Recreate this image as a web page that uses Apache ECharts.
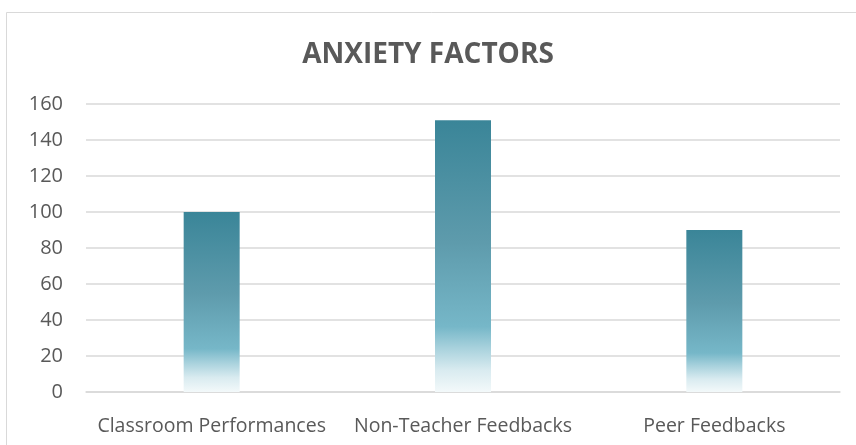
<!DOCTYPE html>
<html>
<head>
<meta charset="utf-8">
<script src="https://cdn.jsdelivr.net/npm/echarts@6/dist/echarts.min.js"></script>
<style>
  html, body { margin: 0; padding: 0; background: #fff; }
  #chart { width: 856px; height: 445px; }
</style>
</head>
<body>
<div id="chart"></div>
<script>
const categories = ['Classroom Performances', 'Non-Teacher Feedbacks', 'Peer Feedbacks'];
const counts = [100, 151, 90];
const yTicks = [0, 20, 40, 60, 80, 100, 120, 140, 160];

const chart = echarts.init(document.getElementById('chart'), null, { renderer: 'canvas' });

// teal at the top, fading out to near white at the base
const barGradient = new echarts.graphic.LinearGradient(0, 0, 0, 1, [
  { offset: 0, color: '#3a8598' },
  { offset: 0.45, color: '#5e9bac' },
  { offset: 0.76, color: '#76b7c8' },
  { offset: 0.84, color: '#a9d2dd' },
  { offset: 0.92, color: '#d9ebf0' },
  { offset: 1, color: '#f3f9fa' }
]);

const option = {
  backgroundColor: '#fff',
  animation: false,
  title: {
    text: 'ANXIETY FACTORS',
    left: 'center',
    top: 36,
    textStyle: {
      fontFamily: 'Open Sans',
      fontSize: 28,
      fontWeight: 'bold',
      color: '#595959'
    }
  },
  graphic: [{
    type: 'rect',
    shape: { x: 6.5, y: 12.5, width: 900, height: 500 },
    style: { fill: 'none', stroke: '#d9d9d9', lineWidth: 1 },
    silent: true
  }],
  grid: { left: 86, right: 16, top: 104, bottom: 53 },
  xAxis: {
    type: 'category',
    data: categories,
    axisLine: { show: true, lineStyle: { color: '#d9d9d9', width: 1.5 } },
    axisTick: { show: false },
    axisLabel: {
      fontFamily: 'Open Sans',
      fontSize: 19.5,
      color: '#595959',
      margin: 24,
      interval: 0
    }
  },
  yAxis: {
    type: 'value',
    min: yTicks[0],
    max: yTicks[yTicks.length - 1],
    interval: 20,
    axisLine: { show: false },
    axisTick: { show: false },
    axisLabel: {
      fontFamily: 'Open Sans',
      fontSize: 20,
      color: '#595959',
      margin: 23
    },
    splitLine: { lineStyle: { color: '#d9d9d9', width: 1.5 } }
  },
  series: [{
    type: 'bar',
    data: counts,
    barWidth: 56,
    itemStyle: { color: barGradient }
  }]
};

chart.setOption(option);
</script>
</body>
</html>
